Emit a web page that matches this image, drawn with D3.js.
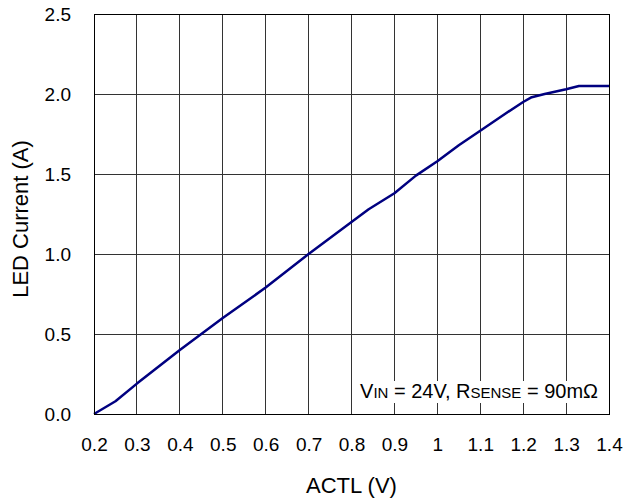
<!DOCTYPE html>
<html><head><meta charset="utf-8">
<script src="https://cdn.jsdelivr.net/npm/d3@7"></script>
<style>body{margin:0;background:#fff}text{font-family:"Liberation Sans",Arial,sans-serif}</style>
</head><body>
<svg id="c" width="623" height="502"></svg>
<script>
const actl = [0.2,0.25,0.3,0.4,0.5,0.6,0.7,0.8,0.84,0.9,0.95,1.0,1.05,1.1,1.16,1.2,1.22,1.25,1.3,1.33,1.4];
const current = [0,0.08,0.19,0.40,0.60,0.79,1.0,1.2,1.28,1.38,1.49,1.58,1.68,1.77,1.88,1.95,1.98,2.0,2.03,2.05,2.05];
const xTicks = [0.2,0.3,0.4,0.5,0.6,0.7,0.8,0.9,1.0,1.1,1.2,1.3,1.4];
const xTickLabels = ["0.2","0.3","0.4","0.5","0.6","0.7","0.8","0.9","1","1.1","1.2","1.3","1.4"];
const yTicks = [0,0.5,1.0,1.5,2.0,2.5];
const yTickLabels = ["0.0","0.5","1.0","1.5","2.0","2.5"];

const svg = d3.select("#c");
const L=94,R=609,T=14,B=414;
const x = d3.scaleLinear().domain([0.2,1.4]).range([L,R]);
const y = d3.scaleLinear().domain([0,2.5]).range([B,T]);

// grid
svg.append("g").selectAll("line").data(xTicks.slice(1,-1)).join("line")
  .attr("x1",d=>x(d)).attr("x2",d=>x(d)).attr("y1",T).attr("y2",B)
  .attr("stroke","#333").attr("stroke-width",1).attr("shape-rendering","crispEdges");
svg.append("g").selectAll("line").data(yTicks.slice(1,-1)).join("line")
  .attr("y1",d=>y(d)).attr("y2",d=>y(d)).attr("x1",L).attr("x2",R)
  .attr("stroke","#333").attr("stroke-width",1).attr("shape-rendering","crispEdges");

// annotation with white background
const ann = svg.append("g");
const bgRect = ann.append("rect").attr("fill","#fff");
const t = ann.append("text").attr("x",598).attr("y",398).attr("text-anchor","end").attr("font-size",20).attr("fill","#000");
t.append("tspan").text("V");
t.append("tspan").attr("font-size",15).text("IN");
t.append("tspan").text(" = 24V, R");
t.append("tspan").attr("font-size",15).text("SENSE");
t.append("tspan").text(" = 90m\u03A9");
const bb = t.node().getBBox();
bgRect.attr("x",bb.x-4).attr("y",bb.y+1).attr("width",bb.width+8).attr("height",bb.height);

// line
svg.append("path").datum(actl.map((a,i)=>[a,current[i]]))
  .attr("d",d3.line().x(d=>x(d[0])).y(d=>y(d[1])))
  .attr("fill","none").attr("stroke","#000080").attr("stroke-width",2.5).attr("stroke-linejoin","round");

// frame
svg.append("rect").attr("x",L).attr("y",T).attr("width",R-L).attr("height",B-T)
  .attr("fill","none").attr("stroke","#000").attr("stroke-width",1).attr("shape-rendering","crispEdges");

// axes labels
const xa = d3.axisBottom(x).tickValues(xTicks).tickFormat((d,i)=>xTickLabels[i]).tickSize(0).tickPadding(24);
const gx = svg.append("g").attr("transform",`translate(0,${B})`).call(xa);
gx.select(".domain").remove();
gx.selectAll("text").attr("font-size",19).attr("fill","#000").attr("font-family","Liberation Sans, Arial, sans-serif");
const ya = d3.axisLeft(y).tickValues(yTicks).tickFormat((d,i)=>yTickLabels[i]).tickSize(0).tickPadding(23);
const gy = svg.append("g").attr("transform",`translate(${L},0)`).call(ya);
gy.select(".domain").remove();
gy.selectAll("text").attr("font-size",19).attr("fill","#000").attr("font-family","Liberation Sans, Arial, sans-serif");

svg.append("text").attr("x",(L+R)/2).attr("y",493).attr("text-anchor","middle").attr("font-size",22).text("ACTL (V)");
svg.append("text").attr("transform",`translate(28,219) rotate(-90)`).attr("text-anchor","middle").attr("font-size",22).text("LED Current (A)");
</script>
</body></html>
